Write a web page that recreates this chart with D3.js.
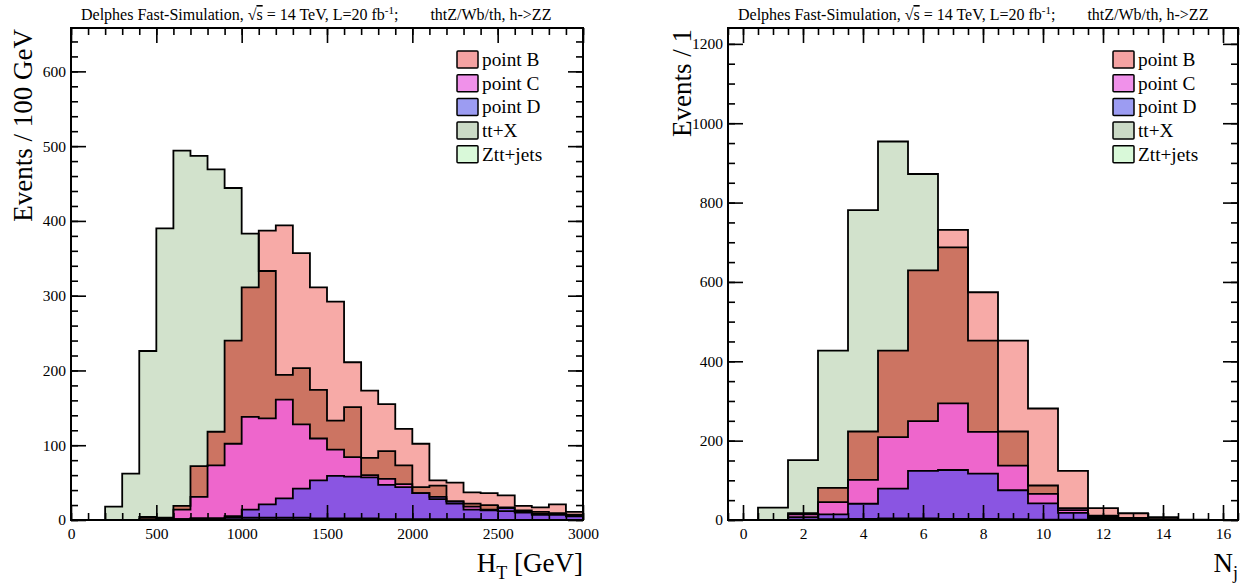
<!DOCTYPE html>
<html><head><meta charset="utf-8">
<script src="https://cdn.jsdelivr.net/npm/d3@7"></script>
<style>
html,body{margin:0;padding:0;background:#fff;}
svg{display:block;font-family:"Liberation Serif","Times New Roman",serif;}
</style></head><body>
<svg id="c" width="1252" height="583"></svg>
<script>
// ---------- data: H_T panel (bins of 100 GeV) ----------
const htBinLow = [0,100,200,300,400,500,600,700,800,900,1000,1100,1200,1300,1400,1500,1600,1700,1800,1900,2000,2100,2200,2300,2400,2500,2600,2700,2800,2900];
const htBinWidth = 100;
const htTtX   = [0,0,18,62,226,390,494,487,469,444,383,333,194,203,174,133,151,83,92,73,44,46,25,22,20,17,13,11,9,7];
const htZtt   = [0,0,0,0,0,1,1,2,2,3,3,3,3,3,2,2,2,2,1,1,1,1,1,1,0,0,0,0,0,0];
const htPointB= [0,0,0,0,4,3,19,72,118,240,311,387,394,357,311,292,211,173,155,122,102,53,50,37,36,33,19,17,21,11];
const htPointC= [0,0,0,0,1,2,14,31,73,102,138,136,161,128,109,94,84,60,55,48,36,28,22,18,14,12,10,8,7,5];
const htPointD= [0,0,0,0,0,0,1,2,2,5,14,21,29,42,53,59,58,57,47,44,36,31,25,14,13,16,11,7,8,6];
const htTickLabels = ["0","500","1000","1500","2000","2500","3000"];
const htYTickLabels = ["0","100","200","300","400","500","600"];

// ---------- data: N_j panel (unit bins centred on integers) ----------
const njBinLow = [-0.5,0.5,1.5,2.5,3.5,4.5,5.5,6.5,7.5,8.5,9.5,10.5,11.5,12.5,13.5,14.5,15.5];
const njBinWidth = 1;
const njTtX   = [0,31,151,427,781,954,872,687,452,223,87,25,11,5,2,0,0];
const njZtt   = [0,0,1,2,3,4,4,3,3,2,1,1,0,0,0,0,0];
const njPointB= [0,0,17,81,223,427,629,731,574,452,281,124,30,17,7,1,0];
const njPointC= [0,0,14,45,101,209,249,294,222,137,66,30,8,4,1,0,0];
const njPointD= [0,0,7,14,41,79,124,126,117,75,42,18,5,2,1,0,0];
const njTickLabels = ["0","2","4","6","8","10","12","14","16"];
const njYTickLabels = ["0","200","400","600","800","1000","1200"];

const legendNames = ["point B","point C","point D","tt+X","Ztt+jets"];

// ---------- styles ----------
const col = {
  ttx:"#d2e2cc", ztt:"#dcf7dc", B:"#f7aaa7", overlap:"#cc7462", C:"#ee66cc", D:"#8a55e2"
};
const swatch = ["#f4a2a2","#f091ea","#9c9cf2","#cbdac6","#d9f9d9"];

const svg = d3.select("#c");

function histPath(x, y, lows, w, vals) {
  const p = d3.path();
  p.moveTo(x(lows[0]), y(0));
  lows.forEach((lo,i) => { p.lineTo(x(lo), y(vals[i])); p.lineTo(x(lo + w), y(vals[i])); });
  p.lineTo(x(lows[lows.length-1] + w), y(0));
  p.closePath();
  return p.toString();
}

function title(g, x0, y0) {
  const t = g.append("text").attr("x", x0).attr("y", y0).attr("font-size", 16)
    .style("white-space","pre").attr("fill","#000");
  t.append("tspan").text("Delphes Fast-Simulation, √");
  t.append("tspan").text("s").style("text-decoration","overline");
  t.append("tspan").text(" = 14 TeV, L=20 fb");
  t.append("tspan").text("-1").attr("font-size", 11).attr("dy", -6);
  t.append("tspan").text(";        thtZ/Wb/th, h->ZZ").attr("dy", 6);
}

function panel(cfg) {
  const g = svg.append("g");
  const x = d3.scaleLinear().domain(cfg.xDomain).range([cfg.left, cfg.right]);
  const y = d3.scaleLinear().domain(cfg.yDomain).range([cfg.bottom, cfg.top]);
  const clipId = "clip" + cfg.id;
  svg.append("clipPath").attr("id", clipId).append("rect")
    .attr("x", cfg.left).attr("y", cfg.top).attr("width", cfg.right - cfg.left).attr("height", cfg.bottom - cfg.top);
  const hg = g.append("g").attr("clip-path", `url(#${clipId})`);

  const overlap = cfg.B.map((v,i) => Math.min(v, cfg.ttx[i]));
  const fills = [
    [cfg.ttx, col.ttx], [cfg.ztt, col.ztt], [cfg.B, col.B], [overlap, col.overlap],
    [cfg.C, col.C], [cfg.D, col.D]
  ];
  fills.forEach(([v,c]) => hg.append("path").attr("d", histPath(x, y, cfg.lows, cfg.w, v)).attr("fill", c));
  [cfg.ttx, cfg.ztt, cfg.B, cfg.C, cfg.D].forEach(v =>
    hg.append("path").attr("d", histPath(x, y, cfg.lows, cfg.w, v))
      .attr("fill","none").attr("stroke","#000").attr("stroke-width",1.8).attr("stroke-linejoin","miter"));

  // axes
  const styleAxis = a => {
    a.select(".domain").remove();
    a.selectAll("line").attr("stroke","#000").attr("stroke-width",1.6);
    a.selectAll("text").attr("font-size",15.5).attr("fill","#000").attr("font-family","Liberation Serif");
  };
  const xMajor = cfg.xTickLabels.map(Number);
  const yMajor = cfg.yTickLabels.map(Number);
  g.append("g").attr("transform",`translate(0,${cfg.bottom})`)
    .call(d3.axisBottom(x).tickValues(xMajor).tickSize(-15).tickPadding(8).tickFormat((d,i)=>cfg.xTickLabels[i])).call(styleAxis);
  g.append("g").attr("transform",`translate(0,${cfg.bottom})`)
    .call(d3.axisBottom(x).tickValues(cfg.xMinor).tickSize(-7).tickFormat("")).call(styleAxis);
  g.append("g").attr("transform",`translate(0,${cfg.top})`)
    .call(d3.axisTop(x).tickValues(xMajor).tickSize(-15).tickFormat("")).call(styleAxis);
  g.append("g").attr("transform",`translate(0,${cfg.top})`)
    .call(d3.axisTop(x).tickValues(cfg.xMinor).tickSize(-7).tickFormat("")).call(styleAxis);
  g.append("g").attr("transform",`translate(${cfg.left},0)`)
    .call(d3.axisLeft(y).tickValues(yMajor).tickSize(-15).tickPadding(5).tickFormat((d,i)=>cfg.yTickLabels[i])).call(styleAxis);
  g.append("g").attr("transform",`translate(${cfg.left},0)`)
    .call(d3.axisLeft(y).tickValues(cfg.yMinor).tickSize(-7).tickFormat("")).call(styleAxis);
  g.append("g").attr("transform",`translate(${cfg.right},0)`)
    .call(d3.axisRight(y).tickValues(yMajor).tickSize(-15).tickFormat("")).call(styleAxis);
  g.append("g").attr("transform",`translate(${cfg.right},0)`)
    .call(d3.axisRight(y).tickValues(cfg.yMinor).tickSize(-7).tickFormat("")).call(styleAxis);

  // frame
  g.append("rect").attr("x", cfg.left).attr("y", cfg.top).attr("width", cfg.right-cfg.left)
    .attr("height", cfg.bottom-cfg.top).attr("fill","none").attr("stroke","#000").attr("stroke-width",2);

  title(g, cfg.left + 10, 20);

  // y title
  g.append("text").attr("transform",`translate(${cfg.yTitleX},${cfg.top+1}) rotate(-90)`)
    .attr("text-anchor","end").attr("font-size",27).text(cfg.yTitle);
  // x title
  const xt = g.append("text").attr("x", cfg.right).attr("y", 572).attr("text-anchor","end").attr("font-size",27);
  xt.append("tspan").text(cfg.xTitleMain);
  xt.append("tspan").text(cfg.xTitleSub).attr("font-size",18).attr("dy",7);
  if (cfg.xTitleRest) xt.append("tspan").text(cfg.xTitleRest).attr("dy",-7);

  // legend
  const lg = g.append("g");
  legendNames.forEach((n,i) => {
    const yy = cfg.legY + i*23.7;
    lg.append("rect").attr("x", cfg.legX).attr("y", yy-8.5).attr("width",21).attr("height",17)
      .attr("fill", swatch[i]).attr("stroke","#000").attr("stroke-width",1.5).attr("rx",1);
    lg.append("text").attr("x", cfg.legX+25).attr("y", yy+6.5).attr("font-size",19.3).text(n);
  });
}

const htMinor = d3.range(0, 3001, 100);
const yMinorHt = d3.range(0, 659, 20);
panel({
  id:"ht", xDomain:[0,3000], yDomain:[0,658], left:71, right:583, top:28, bottom:520,
  lows: htBinLow, w: htBinWidth, ttx: htTtX, ztt: htZtt, B: htPointB, C: htPointC, D: htPointD,
  xTickLabels: htTickLabels, yTickLabels: htYTickLabels, xMinor: htMinor, yMinor: yMinorHt,
  yTitle: "Events / 100 GeV", yTitleX: 32, xTitleMain: "H", xTitleSub: "T", xTitleRest: " [GeV]",
  legX: 457, legY: 59.5
});
const njMinor = d3.range(-0.5, 16.51, 0.5);
const yMinorNj = d3.range(0, 1241, 50);
panel({
  id:"nj", xDomain:[-0.5,16.5], yDomain:[0,1240], left:728, right:1238, top:28, bottom:520,
  lows: njBinLow, w: njBinWidth, ttx: njTtX, ztt: njZtt, B: njPointB, C: njPointC, D: njPointD,
  xTickLabels: njTickLabels, yTickLabels: njYTickLabels, xMinor: njMinor, yMinor: yMinorNj,
  yTitle: "Events / 1", yTitleX: 691, xTitleMain: "N", xTitleSub: "j", xTitleRest: "",
  legX: 1113, legY: 59.5
});
</script>
</body></html>
